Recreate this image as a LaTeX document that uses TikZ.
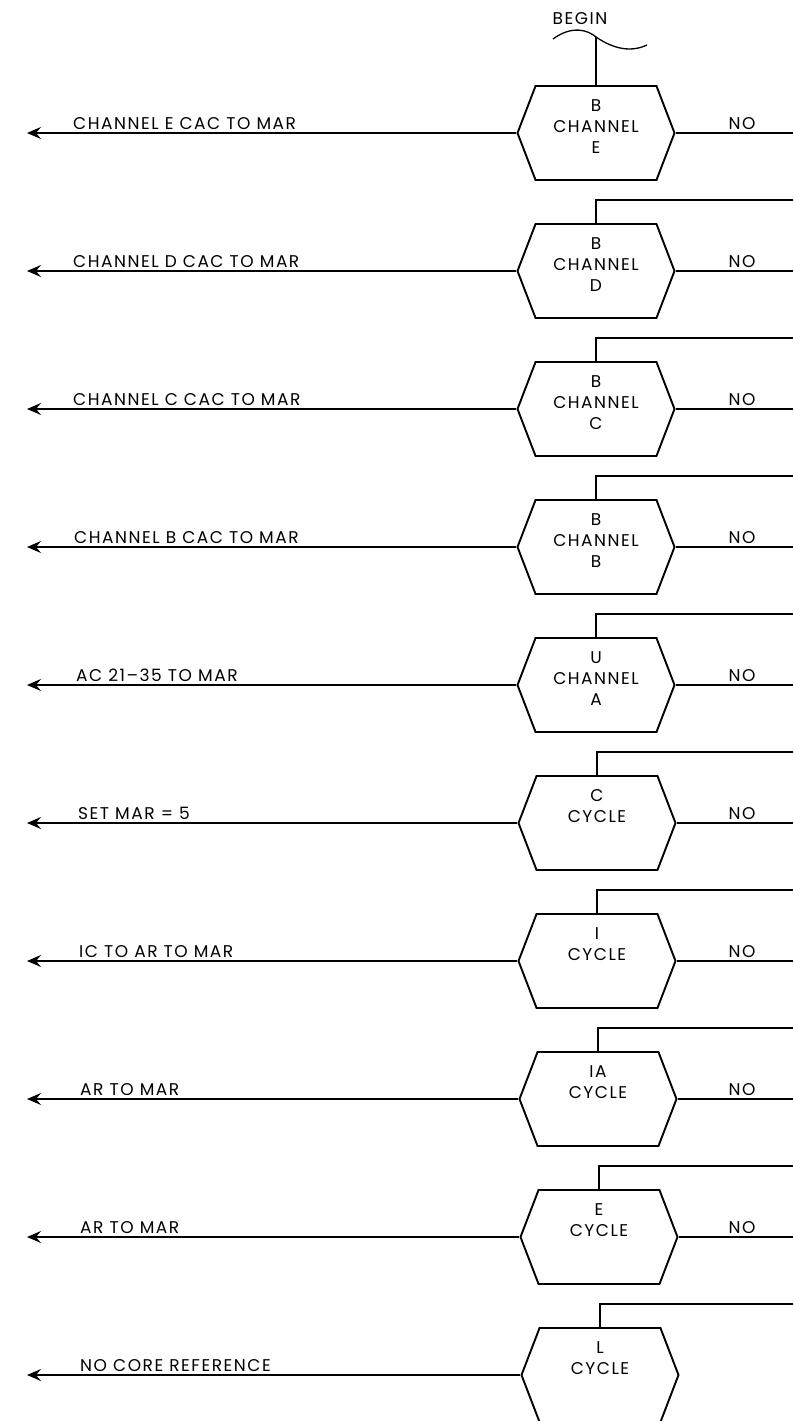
\documentclass[tikz,border=0pt]{standalone}
\usepackage{fontspec}
\setmainfont{Poppins}[LetterSpace=9]
\usetikzlibrary{shapes.symbols,arrows.meta}
\newcommand\hexrow[6]{%
  \node[hexbox] (h#1) at (#2,#3) {};
  \node[hextext] (t#1) at ([yshift=-14pt]h#1.north) {#4};
  \coordinate (a#1) at (27,#3);
  \draw[arr] (h#1.west) -- (a#1);
  \node[lbl] (l#1) at (#6,#3-4) {#5};
}
\begin{document}
\begin{tikzpicture}[x=1pt,y=-1pt,
  hexbox/.style={signal, signal to=east and west, signal pointer angle=138, draw, line width=1.9pt, minimum width=157pt, minimum height=94pt, inner sep=0pt},
  hextext/.style={anchor=north, align=center, inner sep=0pt, font=\fontsize{17}{21}\selectfont},
  lbl/.style={anchor=base west, inner sep=0pt, font=\fontsize{17}{19}\selectfont},
  nolbl/.style={anchor=base, inner sep=0pt, font=\fontsize{17}{19}\selectfont},
  conn/.style={line width=1.3pt},
  arr/.style={conn, -{Stealth[length=14pt,width=12pt,inset=5pt]}}]
\useasboundingbox (0,0) rectangle (793,1421);
\hexrow{1}{596}{133}{B\\CHANNEL\\E}{CHANNEL E CAC TO MAR}{73}
\hexrow{2}{596}{271}{B\\CHANNEL\\D}{CHANNEL D CAC TO MAR}{73}
\hexrow{3}{596}{409}{B\\CHANNEL\\C}{CHANNEL C CAC TO MAR}{73}
\hexrow{4}{596}{547}{B\\CHANNEL\\B}{CHANNEL B CAC TO MAR}{74}
\hexrow{5}{596}{685}{U\\CHANNEL\\A}{AC 21–35 TO MAR}{76}
\hexrow{6}{597}{823}{C\\CYCLE}{SET MAR = 5}{78}
\hexrow{7}{597}{961}{I\\CYCLE}{IC TO AR TO MAR}{79}
\hexrow{8}{598}{1099}{IA\\CYCLE}{AR TO MAR}{80}
\hexrow{9}{599}{1237}{E\\CYCLE}{AR TO MAR}{80}
\hexrow{10}{600}{1375}{L\\CYCLE}{NO CORE REFERENCE}{80}
% NO exits to the right
\foreach \k/\my in {1/133,2/271,3/409,4/547,5/685,6/823,7/961,8/1099,9/1237}{
  \coordinate (r\k) at (793,\my);
  \draw[conn] (h\k.east) -- (r\k);
  \node[nolbl] (no\k) at (742,\my-4) {NO};
}
% feeds from the right
\foreach \k/\my in {2/271,3/409,4/547,5/685,6/823,7/961,8/1099,9/1237,10/1375}{
  \coordinate (f\k) at (793,\my-71);
  \draw[conn] (f\k) -| (h\k.north);
}
% BEGIN
\node[nolbl] (begin) at (580,25) {BEGIN};
\coordinate (w) at (596,37);
\draw[conn] (553,39) .. controls (572,25) and (588,30) .. (w) .. controls (615,50) and (632,52) .. (647,45);
\draw[conn] (w) -- (h1.north);
\end{tikzpicture}
\end{document}
